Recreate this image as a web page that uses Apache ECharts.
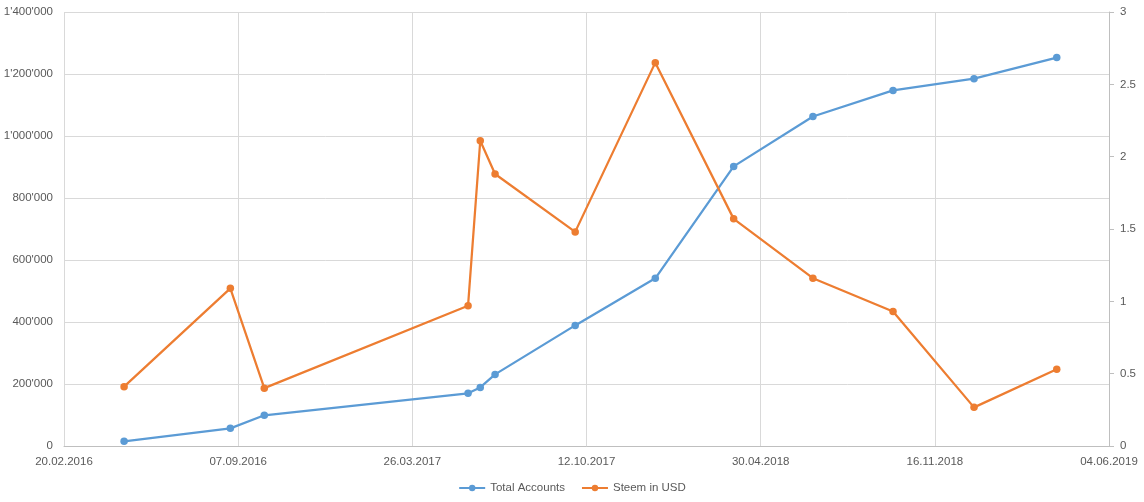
<!DOCTYPE html>
<html>
<head>
<meta charset="utf-8">
<script src="https://cdn.jsdelivr.net/npm/echarts@6/dist/echarts.min.js"></script>
<style>html,body{margin:0;padding:0;background:#fff}#c{width:1144px;height:502px}</style>
</head>
<body>
<div id="c"></div>
<script>
// ---- data ----
const dates = ['2016-04-29','2016-08-29','2016-10-07','2017-05-29','2017-06-12','2017-06-29','2017-09-29','2017-12-30','2018-03-30','2018-06-29','2018-09-29','2018-12-31','2019-04-05'];
const totalAccounts = [15000,57000,99000,170000,189000,231000,389000,541000,902000,1063000,1147000,1185000,1253000];
const steemUSD = [0.41,1.09,0.40,0.97,2.11,1.88,1.48,2.65,1.57,1.16,0.93,0.267,0.53];
const seriesNames = ['Total Accounts','Steem in USD'];
const xStart = '2016-02-20';   // first tick label (day 0)
const xEndDays = 1200;          // 04.06.2019
const xTickDays = 200;
const leftMax = 1400000, leftStep = 200000;
const rightMax = 3, rightStep = 0.5;

const DAY = 86400000;
const t0 = Date.parse(xStart + 'T00:00:00Z');
const toDay = s => Math.round((Date.parse(s + 'T00:00:00Z') - t0) / DAY);
const fmtDate = d => {
  const dt = new Date(t0 + d * DAY);
  const p = n => String(n).padStart(2, '0');
  return p(dt.getUTCDate()) + '.' + p(dt.getUTCMonth() + 1) + '.' + dt.getUTCFullYear();
};
const fmtThousands = v => String(v).replace(/\B(?=(\d{3})+(?!\d))/g, "'");

const xs = dates.map(toDay);
const txt = '#595959';
const gridCol = '#d9d9d9';
const font = 'Liberation Sans';

const chart = echarts.init(document.getElementById('c'), null, {renderer: 'canvas'});
chart.setOption({
  animation: false,
  textStyle: {fontFamily: font},
  grid: {left: 64, right: 35, top: 12, bottom: 56, containLabel: false},
  legend: {
    bottom: 3, left: 'center', itemWidth: 26, itemHeight: 8, itemGap: 16,
    textStyle: {color: txt, fontSize: 11.5, fontFamily: font},
    data: seriesNames
  },
  xAxis: {
    type: 'value', min: 0, max: xEndDays, interval: xTickDays,
    axisLine: {show: true, lineStyle: {color: '#bfbfbf', width: 1}},
    axisTick: {show: false},
    splitLine: {show: true, lineStyle: {color: gridCol, width: 1}},
    axisLabel: {color: txt, fontSize: 11.5, margin: 10, formatter: fmtDate, showMinLabel: true, showMaxLabel: true}
  },
  yAxis: [
    {
      type: 'value', min: 0, max: leftMax, interval: leftStep,
      axisLine: {show: false}, axisTick: {show: false},
      splitLine: {show: true, lineStyle: {color: gridCol, width: 1}},
      axisLabel: {color: txt, fontSize: 11.5, margin: 11, formatter: fmtThousands}
    },
    {
      type: 'value', min: 0, max: rightMax, interval: rightStep, position: 'right',
      axisLine: {show: true, lineStyle: {color: '#bfbfbf', width: 1}},
      axisTick: {show: true, length: 5, inside: false, lineStyle: {color: '#bfbfbf'}},
      splitLine: {show: false},
      axisLabel: {color: txt, fontSize: 11.5, margin: 11}
    }
  ],
  series: [
    {
      name: seriesNames[0], type: 'line', yAxisIndex: 0,
      data: xs.map((x, i) => [x, totalAccounts[i]]),
      symbol: 'circle', symbolSize: 7.5,
      lineStyle: {color: '#5B9BD5', width: 2.25},
      itemStyle: {color: '#5B9BD5'}
    },
    {
      name: seriesNames[1], type: 'line', yAxisIndex: 1,
      data: xs.map((x, i) => [x, steemUSD[i]]),
      symbol: 'circle', symbolSize: 7.5,
      lineStyle: {color: '#ED7D31', width: 2.25},
      itemStyle: {color: '#ED7D31'}
    }
  ]
});
</script>
</body>
</html>
